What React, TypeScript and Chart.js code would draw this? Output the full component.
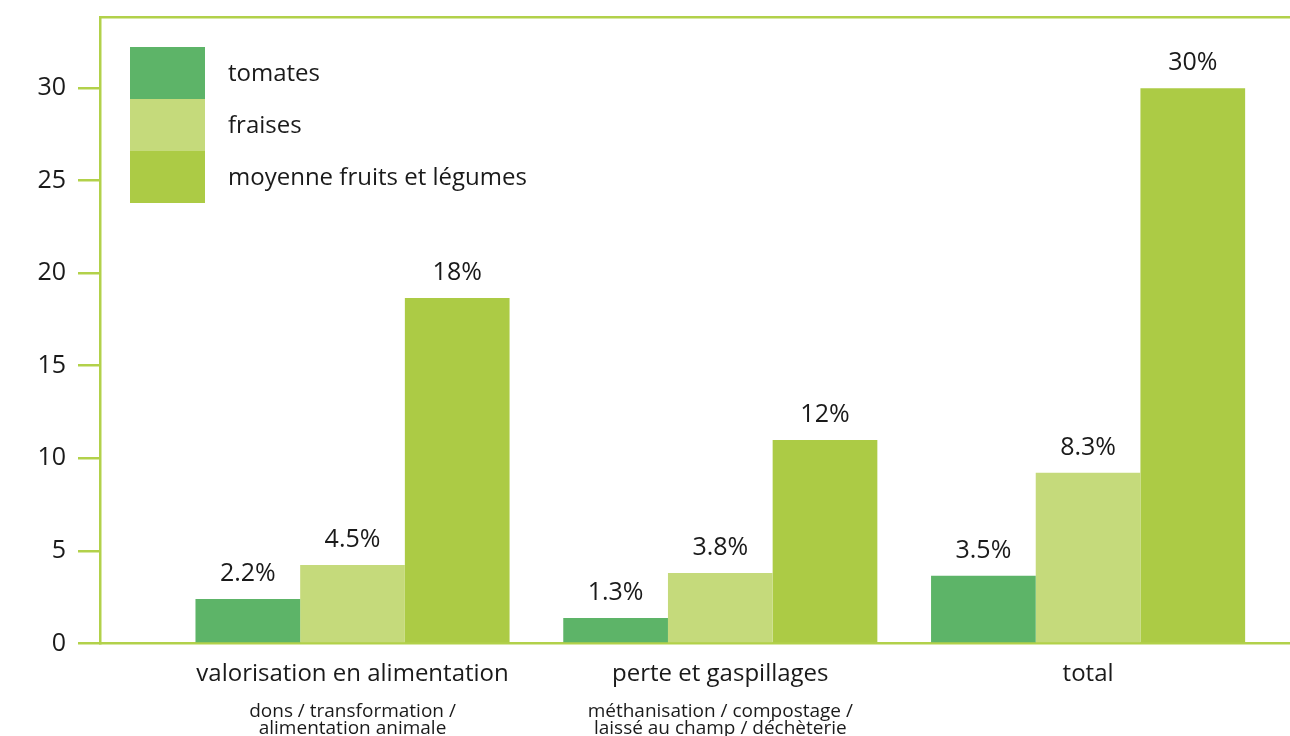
import React, { useEffect, useRef } from 'react';
import { Chart, registerables } from 'chart.js';

Chart.register(...registerables);

// ---- data ----
const categories = ['valorisation en alimentation', 'perte et gaspillages', 'total'];
const subLabels: string[][] = [
  ['dons / transformation /', 'alimentation animale'],
  ['méthanisation / compostage /', 'laissé au champ / déchèterie'],
  [],
];
const seriesNames = ['tomates', 'fraises', 'moyenne fruits et légumes'];
const tomates = [2.4, 1.38, 3.66];
const fraises = [4.24, 3.81, 9.22];
const moyenne = [18.66, 10.99, 29.98];
const tomatesLabels = ['2.2%', '1.3%', '3.5%'];
const fraisesLabels = ['4.5%', '3.8%', '8.3%'];
const moyenneLabels = ['18%', '12%', '30%'];
const yTicks = [0, 5, 10, 15, 20, 25, 30];

// ---- style ----
const colors = ['#5db468', '#c5da7b', '#accb45'];
const axisColor = '#b2d14a';
const textColor = '#1a1a1a';
const FONT = "'Open Sans', sans-serif";
const X_MIN = -0.6866;
const X_MAX = 2.549;
const Y_MAX = 33.83;

const seriesValues = [tomates, fraises, moyenne];
const seriesLabels = [tomatesLabels, fraisesLabels, moyenneLabels];

const valueLabelPlugin = {
  id: 'valueLabels',
  afterDatasetsDraw(chart: any) {
    const ctx = chart.ctx;
    ctx.save();
    ctx.font = `25px ${FONT}`;
    ctx.fillStyle = textColor;
    ctx.textAlign = 'center';
    ctx.textBaseline = 'alphabetic';
    chart.data.datasets.forEach((ds: any, di: number) => {
      const meta = chart.getDatasetMeta(di);
      meta.data.forEach((bar: any, i: number) => {
        const txt = seriesLabels[di][i];
        ctx.fillText(txt, bar.x, bar.y - 18);
      });
    });
    ctx.restore();
  },
};

const legendPlugin = {
  id: 'boxLegend',
  afterDraw(chart: any) {
    const ctx = chart.ctx;
    const { left, top } = chart.chartArea;
    const bx = left + 30;
    const by = top + 30;
    const bw = 75;
    const bh = 52;
    ctx.save();
    seriesNames.forEach((name, i) => {
      ctx.fillStyle = colors[i];
      ctx.fillRect(bx, by + i * bh, bw, bh);
      ctx.fillStyle = textColor;
      ctx.font = `24px ${FONT}`;
      ctx.textAlign = 'left';
      ctx.textBaseline = 'alphabetic';
      ctx.fillText(name, bx + bw + 23, by + i * bh + 34);
    });
    ctx.restore();
  },
};

const subLabelPlugin = {
  id: 'subLabels',
  afterDraw(chart: any) {
    const ctx = chart.ctx;
    const xs = chart.scales.x;
    ctx.save();
    ctx.font = `19px ${FONT}`;
    ctx.fillStyle = textColor;
    ctx.textAlign = 'center';
    ctx.textBaseline = 'alphabetic';
    subLabels.forEach((lines, i) => {
      const px = xs.getPixelForValue(i);
      lines.forEach((line, j) => {
        ctx.fillText(line, px, xs.top + 73.5 + j * 17);
      });
    });
    ctx.restore();
  },
};

export default function App() {
  const ref = useRef<HTMLCanvasElement | null>(null);

  useEffect(() => {
    document.body.style.margin = '0';
    const canvas = ref.current;
    if (!canvas) return;
    const chart = new Chart(canvas, {
      type: 'bar',
      data: {
        datasets: seriesNames.map((name, si) => ({
          label: name,
          data: categories.map((_, i) => ({ x: i, y: seriesValues[si][i] })),
          backgroundColor: colors[si],
          borderWidth: 0,
          barPercentage: 1,
          categoryPercentage: 0.854,
        })),
      },
      options: {
        responsive: false,
        animation: false,
        events: [],
        layout: { padding: { top: 17, left: 0, right: 0, bottom: 0 } },
        plugins: {
          legend: { display: false },
          tooltip: { enabled: false },
        },
        scales: {
          x: {
            type: 'linear',
            position: 'bottom',
            min: X_MIN,
            max: X_MAX,
            offset: false,
            grid: { display: false, drawTicks: false, offset: false },
            border: { display: true, color: axisColor, width: 2.5 },
            afterBuildTicks: (scale: any) => {
              scale.ticks = categories.map((_, i) => ({ value: i }));
            },
            afterFit: (scale: any) => {
              scale.height = 92.5;
              scale.paddingLeft = 0;
              scale.paddingRight = 0;
            },
            ticks: {
              autoSkip: false,
              maxRotation: 0,
              minRotation: 0,
              padding: 16,
              color: textColor,
              font: { family: FONT, size: 24 },
              callback: (v: any) => categories[v] ?? '',
            },
          },
          x2: {
            type: 'linear',
            position: 'top',
            min: X_MIN,
            max: X_MAX,
            grid: { display: false, drawTicks: false },
            ticks: { display: false },
            border: { display: true, color: axisColor, width: 2.5 },
            afterFit: (scale: any) => {
              scale.height = 0;
              scale.paddingLeft = 0;
              scale.paddingRight = 0;
            },
          },
          y: {
            type: 'linear',
            min: 0,
            max: Y_MAX,
            afterBuildTicks: (scale: any) => {
              scale.ticks = yTicks.map((v) => ({ value: v }));
            },
            afterFit: (scale: any) => {
              scale.width = 100;
              scale.paddingTop = 0;
              scale.paddingBottom = 0;
            },
            grid: {
              drawOnChartArea: false,
              drawTicks: true,
              tickLength: 22,
              color: axisColor,
              lineWidth: 2.5,
            },
            border: { display: true, color: axisColor, width: 2.5 },
            ticks: {
              padding: 12,
              color: textColor,
              font: { family: FONT, size: 25 },
              callback: (v: any) => String(v),
            },
          },
        },
      },
      plugins: [valueLabelPlugin, legendPlugin, subLabelPlugin],
    } as any);
    return () => chart.destroy();
  }, []);

  return (
    <div style={{ position: 'fixed', left: 0, top: 0, width: 1290, height: 736, background: '#fff' }}>
      <canvas ref={ref} width={1290} height={736} style={{ display: 'block' }} />
    </div>
  );
}
